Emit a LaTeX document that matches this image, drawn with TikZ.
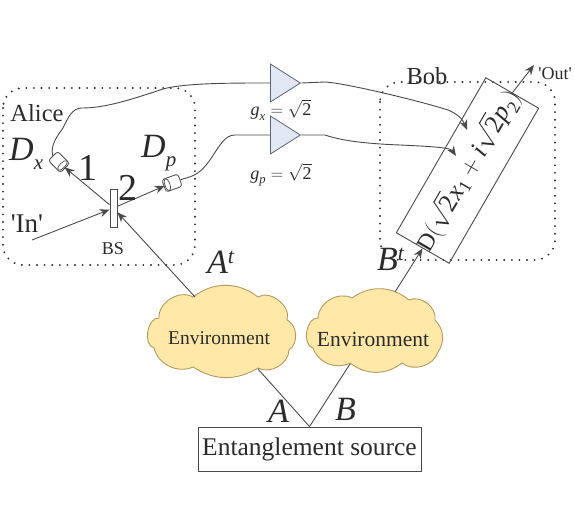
\documentclass[tikz,border=0pt]{standalone}
\usepackage{amsmath}
\usepackage{fontspec}
\setmainfont{Liberation Serif}
\newfontfamily\plainq{Liberation Serif}
\usetikzlibrary{arrows.meta,shapes.geometric,calc}
\definecolor{ink}{HTML}{2B2B2B}
\definecolor{linec}{HTML}{4A4A4A}
\definecolor{cloudfill}{HTML}{FFE8A8}
\definecolor{cloudline}{HTML}{B09A60}
\definecolor{ampfill}{HTML}{E2E7F5}
\definecolor{ampline}{HTML}{5F6472}
\newcommand{\fs}[1]{\fontsize{#1}{#1}\selectfont}
\newcommand{\vi}[1]{\text{\itshape #1}}
\newcommand{\rt}{\text{2}}
\tikzset{
  x=1pt,y=-1pt,
  every node/.style={inner sep=0pt,text=ink},
  wire/.style={draw=linec,line width=0.9pt},
  arr/.style={wire,-{Stealth[length=10pt,width=8pt]}},
  dotbox/.style={draw=ink,line width=2.1pt,line cap=round,dash pattern=on 0pt off 7.6pt,rounded corners=20pt},
  amp/.style={draw=ampline,fill=ampfill,line width=0.8pt,isosceles triangle,isosceles triangle stretches,minimum height=30pt,minimum width=38pt,anchor=lower side},
  detector/.style={draw=linec,fill=white,line width=0.8pt,rectangle,rounded corners=2.5pt,minimum width=17pt,minimum height=13pt},
  detface/.style={draw=linec,fill=white,line width=0.7pt,ellipse,minimum width=5pt,minimum height=13pt},
  cloudp/.style={draw=cloudline,fill=cloudfill,line width=0.9pt},
  plainbox/.style={draw=linec,line width=0.9pt,fill=white},
}
\begin{document}
\begin{tikzpicture}
\useasboundingbox (0,0) rectangle (575,521);
% dotted regions
\draw[dotbox] (3,88) rectangle (195,265);
\draw[dotbox] (380,82) rectangle (555,260);
% clouds
\path[cloudp] (193,297) to[bend left=38] (258,297) to[bend left=70] (287,320) to[bend left=60] (289,350) to[bend left=58] (258,368) to[bend left=32] (193,367) to[bend left=50] (154,348) to[bend left=85] (159,318) to[bend left=62] cycle;
\path[cloudp] (352,298) to[bend left=38] (409,300) to[bend left=62] (435,320) to[bend left=40] (438,352) to[bend left=55] (402,363) to[bend left=38] (350,363) to[bend left=50] (313,348) to[bend left=85] (318,318) to[bend left=58] cycle;
\node (envl) at (219,338) {\fs{19.5}Environment};
\node (envr) at (373,339) {\fs{21.5}Environment};
\coordinate (lup) at (195,297);
\coordinate (ldn) at (258,369);
\coordinate (rup) at (395,292);
\coordinate (rdn) at (350,364);
% source
\node[plainbox,minimum width=223pt,minimum height=44pt] (src) at (309.5,449) {\fs{25.5}Entanglement source};
\draw[wire] (ldn) -- (src.north);
\draw[wire] (rdn) -- (src.north);
% BS, detectors
\node[plainbox,minimum width=7pt,minimum height=38pt] (bs) at (113.5,208) {};
\node[detector,rotate=-45] (dx) at (59,162) {};
\node[detface,rotate=-45] (dxf) at ($(dx.center)!0.55!(dx.east)$) {};
\node[detector,rotate=200] (dp) at (172,183) {};
\node[detface,rotate=200] (dpf) at ($(dp.center)!0.55!(dp.east)$) {};
\coordinate (inp) at (32,240);
\draw[arr] (inp) -- (bs);
\draw[arr] (bs) -- (dxf);
\draw[arr] (bs) -- (dpf);
\draw[arr] (lup) -- (bs);
% amplifiers
\node[amp] (a1) at (270,83) {};
\node[amp] (a2) at (270,135) {};
% displacement
\node[plainbox,fill=none,rotate=60,minimum width=179pt,minimum height=61pt] (disp) at (467.5,170.5)
  {\makebox[150pt]{\fs{26}$\text{\fs{24}D}(\sqrt{\rt}\vi{x}_{\text{1}}+\vi{i}\sqrt{\rt}\vi{p}_{\text{2}})$}};
\coordinate (out) at (534,65);
\draw[arr] (rup) -- (disp.west);
\draw[arr] (disp.east) -- (out);
% wires
\coordinate (t1) at (467,130);
\coordinate (t2) at (456,156);
\draw[wire] (dx.west) .. controls (50,145) and (58,135) .. (63,128) .. controls (68,118) and (72,108) .. (82,108) .. controls (105,108) and (130,100) .. (163,89) .. controls (185,83) and (230,83) .. (a1.lower side);
\draw[wire] (dp.west) .. controls (190,176) and (197,178) .. (210,160) .. controls (220,145) and (225,135) .. (235,135) -- (a2.lower side);
\draw[wire,-{Stealth[length=10pt,width=8pt]}] (a1.apex) -- (325,82) .. controls (345,83) and (420,101) .. (448,110) .. controls (458,114) and (463,120) .. (t1);
\draw[wire,-{Stealth[length=10pt,width=8pt]}] (a2.apex) -- (325,135) .. controls (345,142) and (375,144) .. (400,145) .. controls (420,146) and (450,147) .. (t2);
% labels
\node (alice) at (37,113) {\fs{24.5}Alice};
\node (bob) at (427,76) {\fs{24.5}Bob};
\node (in) at (27,224) {\fs{27}\plainq 'In'};
\node (outl) at (555,74) {\fs{18}\plainq 'Out'};
\node (bsl) at (113,249) {\fs{18}BS};
\node (n1) at (88,168) {\fs{38}1};
\node (n2) at (128,188) {\fs{38}2};
\node[anchor=base west] (dxl) at (9,161) {\fs{34}\itshape D\raisebox{-9pt}{\fs{21}x}};
\node[anchor=base west] (dpl) at (141,158) {\fs{34}\itshape D\raisebox{-9pt}{\fs{21}p}};
\node[anchor=base west] (at) at (207,273) {\fs{34}\itshape A\raisebox{10pt}{\fs{22}t}};
\node[anchor=base west] (bt) at (377,270) {\fs{34}\itshape B\raisebox{10pt}{\fs{22}t}};
\node[anchor=base west] (al) at (268,422) {\fs{34}\itshape A};
\node[anchor=base west] (bl) at (335,420) {\fs{34}\itshape B};
\node (gx) at (281,110) {\fs{18}$\vi{g}_{\vi{x}}=\sqrt{\rt}$};
\node (gp) at (281,175) {\fs{18}$\vi{g}_{\vi{p}}=\sqrt{\rt}$};
\end{tikzpicture}
\end{document}
